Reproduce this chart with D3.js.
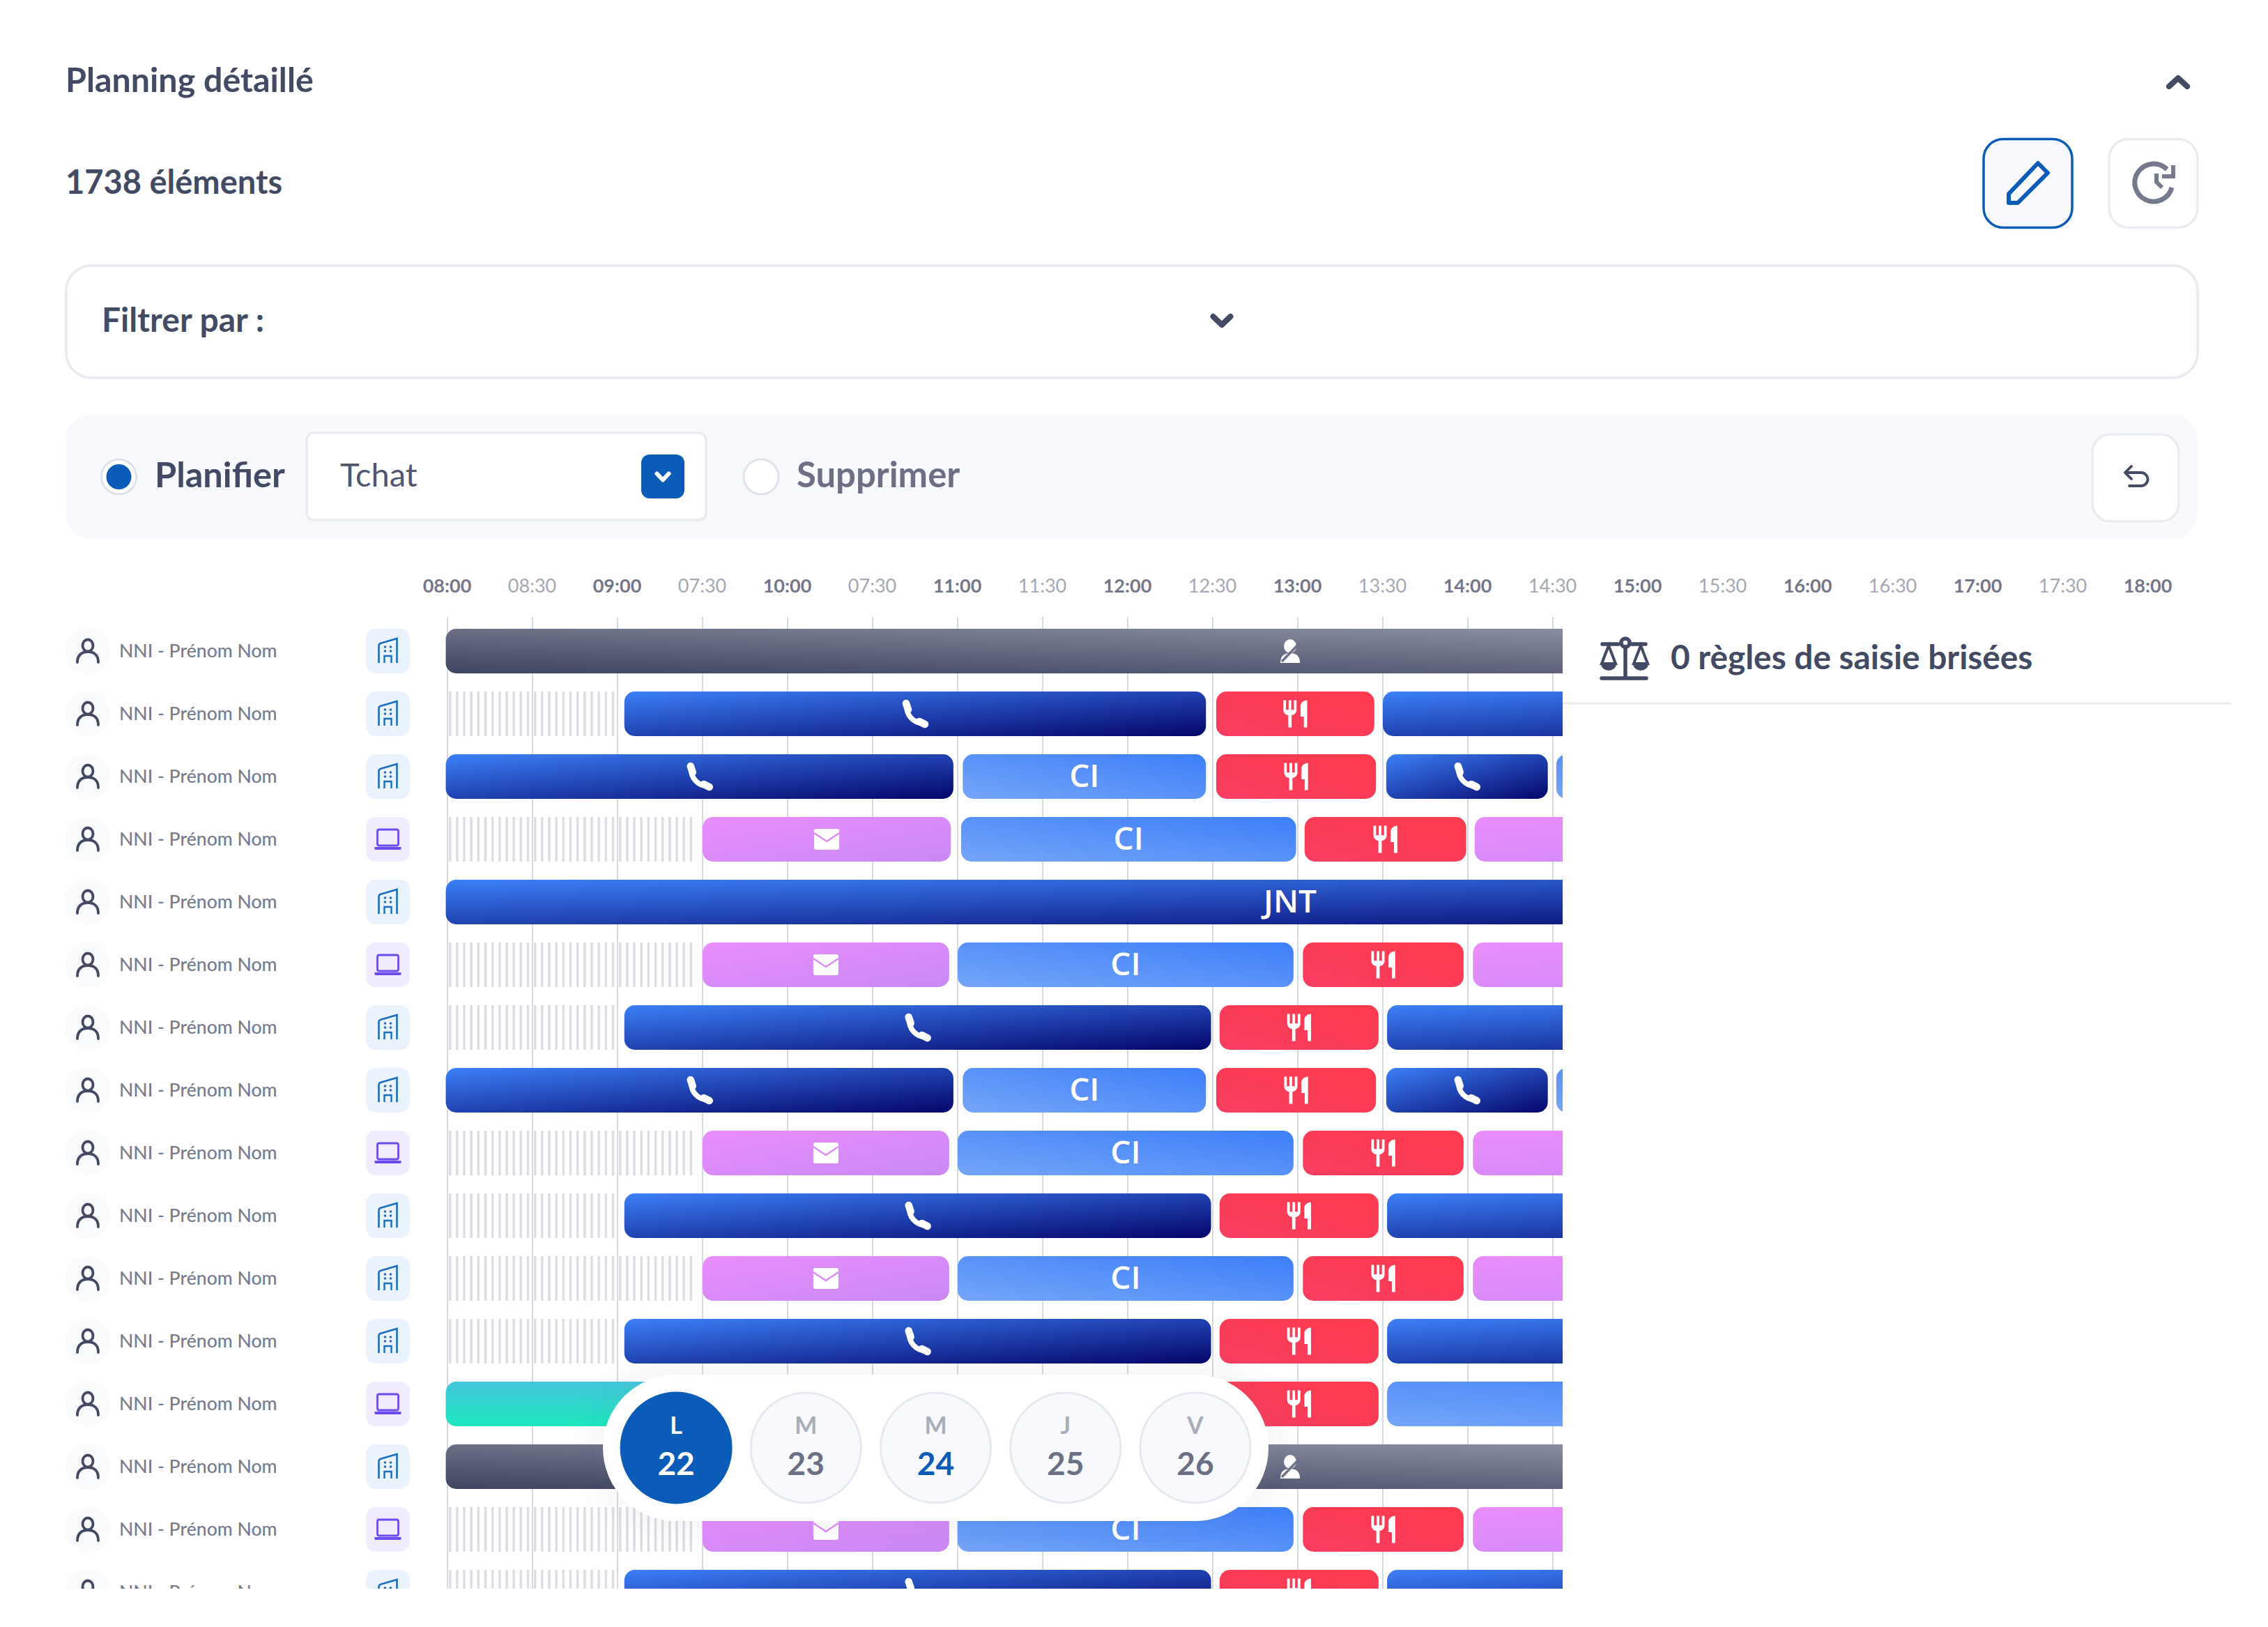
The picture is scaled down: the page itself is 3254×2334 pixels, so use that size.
<!DOCTYPE html>
<html>
<head>
<meta charset="utf-8">
<script src="https://cdn.jsdelivr.net/npm/d3@7"></script>
<style>
  html, body { margin: 0; background: #fff; }
  svg { display: block; }
  text { font-family: Lato, "Noto Sans", sans-serif; }
</style>
</head>
<body>
<div id="planning"></div>
<script>
const tickHours = [8, 8.5, 9, 9.5, 10, 10.5, 11, 11.5, 12, 12.5, 13, 13.5, 14, 14.5, 15, 15.5, 16, 16.5, 17, 17.5, 18]
const tickLabels = ['08:00', '08:30', '09:00', '07:30', '10:00', '07:30', '11:00', '11:30', '12:00', '12:30', '13:00', '13:30', '14:00', '14:30', '15:00', '15:30', '16:00', '16:30', '17:00', '17:30', '18:00']

// [start hour, end hour, activity]
const planAbsence = [[7.99, 17.92, 'absence']]
const planHoliday = [[7.99, 17.92, 'jnt']]
const planPhoneA = [[7.99, 8.99, 'free'], [9.04, 12.46, 'phone'], [12.52, 13.45, 'meal'], [13.5, 17.92, 'phone']]
const planPhoneB = [[7.99, 8.99, 'free'], [9.04, 12.49, 'phone'], [12.54, 13.475, 'meal'], [13.525, 17.92, 'phone']]
const planSplit = [[7.99, 10.975, 'phone'], [11.03, 12.46, 'ci'], [12.52, 13.46, 'meal'], [13.52, 14.47, 'phone'], [14.52, 17, 'ci']]
const planMailA = [[7.99, 9.44, 'free'], [9.5, 10.96, 'mail'], [11.02, 12.99, 'ci'], [13.04, 13.99, 'meal'], [14.04, 17.5, 'mail']]
const planMailB = [[7.99, 9.44, 'free'], [9.5, 10.95, 'mail'], [11, 12.975, 'ci'], [13.03, 13.975, 'meal'], [14.03, 17.5, 'mail']]
const planTeal = [[7.99, 12.49, 'teal'], [12.54, 13.475, 'meal'], [13.525, 17, 'ci']]

const rowPlans = [planAbsence, planPhoneA, planSplit, planMailA, planHoliday, planMailB, planPhoneB, planSplit, planMailB, planPhoneB, planMailB, planPhoneB, planTeal, planAbsence, planMailB, planPhoneB]
const rowSites = ['office', 'office', 'office', 'remote', 'office', 'remote', 'office', 'office', 'remote', 'office', 'office', 'office', 'remote', 'office', 'remote', 'office']
const rowName = 'NNI - Prénom Nom'

const dayLetters = ['L', 'M', 'M', 'J', 'V']
const dayNumbers = ['22', '23', '24', '25', '26']

const ink = '#434a63'
const brand = '#0a5cb8'
const hairline = '#e9ebf0'

const svg = d3.select('#planning').append('svg')
  .attr('width', 3254).attr('height', 2334)
  .attr('viewBox', [0, 0, 3254, 2334])

const x = d3.scaleLinear().domain([8, 18]).range([642, 3082])
const y = d3.scaleBand().domain(d3.range(rowPlans.length))
  .range([889, 889 + 90 * rowPlans.length]).paddingInner(26 / 90).paddingOuter(13 / 90)

// ---- defs
const defs = svg.append('defs')

const gradients = {
  phone: [0, 0, 1, 1, '#3c80f8', '#05056a'],
  jnt: [0, 0, 1, 1, '#3c80f8', '#05056a'],
  ci: [0, 1, 1, 0, '#74a5f8', '#3d7ff9'],
  meal: [0, 1, 1, 0, '#f83d62', '#ff3b4c'],
  mail: [0, 0, 1, 1, '#ea8dfd', '#c889f4'],
  absence: [0, 1, 1, 0, '#3f4460', '#979cad'],
  teal: [0, 0, 0, 1, '#43c6dd', '#1de8bd']
}
Object.entries(gradients).forEach(([name, [x1, y1, x2, y2, from, to]]) => {
  const g = defs.append('linearGradient').attr('id', `grad-${name}`)
    .attr('x1', x1).attr('y1', y1).attr('x2', x2).attr('y2', y2)
  g.append('stop').attr('offset', 0).attr('stop-color', from)
  g.append('stop').attr('offset', 1).attr('stop-color', to)
})

defs.append('pattern').attr('id', 'free-hatch').attr('patternUnits', 'userSpaceOnUse')
  .attr('width', (x(9) - x(8)) / 24).attr('height', 64).attr('x', x(8))
  .append('rect').attr('x', 2).attr('width', 3.4).attr('height', 64).attr('fill', '#d9dce2')

defs.append('clipPath').attr('id', 'rows-clip')
  .append('rect').attr('x', 0).attr('y', 860).attr('width', x(8) + 1600).attr('height', 2279 - 860)

const shadow = defs.append('filter').attr('id', 'pill-shadow')
  .attr('x', '-10%').attr('y', '-40%').attr('width', '120%').attr('height', '180%')
shadow.append('feDropShadow').attr('dx', 0).attr('dy', 0).attr('stdDeviation', 24)
  .attr('flood-color', '#4a5068').attr('flood-opacity', 0.1)

// ---- icons, all drawn around 0,0
const mealPath = 'M11 9H9V2H7v7H5V2H3v7c0 2.12 1.66 3.84 3.75 3.97V22h2.5v-9.03C11.34 12.84 13 11.12 13 9V2h-2v7zm5-3v8h2.5v8H21V2c-2.76 0-5 2.24-5 4z'

const activityIcons = {
  phone: g => {
    g.append('path').attr('d', 'M-12,-13 C-13,2 -3,13 12,14')
      .attr('fill', 'none').attr('stroke', '#fff').attr('stroke-width', 7.5)
    g.append('path').attr('d', 'M-13,-15 L-10,-6 M6,11 L14,15')
      .attr('fill', 'none').attr('stroke', '#fff').attr('stroke-width', 10.5).attr('stroke-linecap', 'round')
  },
  meal: g => g.append('path').attr('d', mealPath).attr('fill', '#fff')
    .attr('transform', 'scale(1.9,1.95) translate(-12,-12)'),
  mail: g => {
    g.append('rect').attr('x', -18).attr('y', -15).attr('width', 36).attr('height', 30).attr('rx', 3).attr('fill', '#fff')
    g.append('path').attr('d', 'M-18,-9 L0,3 L18,-9').attr('fill', 'none').attr('stroke', '#dd8bf9').attr('stroke-width', 2.5)
  },
  absence: g => {
    g.append('ellipse').attr('cy', -7).attr('rx', 9).attr('ry', 10).attr('fill', '#fff')
    g.append('path').attr('d', 'M-14,17 C-14,6 -8,3 0,3 C8,3 14,6 14,17 Z').attr('fill', '#fff')
    g.append('path').attr('d', 'M-12,15 L14,-12').attr('stroke', '#6f7389').attr('stroke-width', 3.5)
  }
}

function drawBuilding(g) {
  const c = '#1c6dbd'
  g.append('path').attr('d', 'M-13,17 V-8 Q-13,-10 -11,-11 L13,-18 V17').attr('fill', 'none').attr('stroke', c).attr('stroke-width', 2.6)
  g.selectAll('circle').data([[-4, -6], [4, -6], [-4, 0], [4, 0]]).join('circle')
    .attr('cx', d => d[0]).attr('cy', d => d[1]).attr('r', 1.8).attr('fill', c)
  g.append('path').attr('d', 'M-5,17 V7 H5 V17').attr('fill', 'none').attr('stroke', c).attr('stroke-width', 2.4)
}

function drawLaptop(g) {
  const c = '#6a4cf0'
  g.append('rect').attr('x', -15).attr('y', -14).attr('width', 30).attr('height', 23).attr('rx', 2.5)
    .attr('fill', 'none').attr('stroke', c).attr('stroke-width', 2.8)
  g.append('path').attr('d', 'M-19,11 H19 V14 Q19,15 17,15 H-17 Q-19,15 -19,14 Z').attr('fill', c)
}

function drawPerson(g) {
  g.append('ellipse').attr('cy', -8).attr('rx', 7.5).attr('ry', 8.5)
    .attr('fill', 'none').attr('stroke', '#434a63').attr('stroke-width', 3.8)
  g.append('path').attr('d', 'M-15,16 C-15,6 -9,1 0,1 C9,1 15,6 15,16')
    .attr('fill', 'none').attr('stroke', '#434a63').attr('stroke-width', 3.8).attr('stroke-linecap', 'round')
}

const chevron = (g, cx, cy, w, h, stroke, color) => g.append('path')
  .attr('d', `M${cx - w / 2},${cy - h / 2} L${cx},${cy + h / 2} L${cx + w / 2},${cy - h / 2}`)
  .attr('fill', 'none').attr('stroke', color).attr('stroke-width', stroke)
  .attr('stroke-linecap', 'round').attr('stroke-linejoin', 'round')

const label = (g, str, px, py, size, weight, color, anchor = 'start') => g.append('text')
  .attr('x', px).attr('y', py).attr('font-size', size).attr('font-weight', weight)
  .attr('fill', color).attr('text-anchor', anchor).text(str)

const box = (g, bx, by, w, h, r, fill, stroke, sw = 3.5) => g.append('rect')
  .attr('x', bx).attr('y', by).attr('width', w).attr('height', h).attr('rx', r)
  .attr('fill', fill).attr('stroke', stroke).attr('stroke-width', sw)

// ---- header
const header = svg.append('g').attr('class', 'header')
label(header, 'Planning détaillé', 94, 132, 48.4, 700, ink)
chevron(header, 3125, 118, 26, 12, 8, ink).attr('transform', 'rotate(180 3125 118)')
label(header, '1738 éléments', 94, 278, 47, 700, ink)

box(header, 2846, 199.5, 127, 127, 28, '#f7f9fd', brand)
header.append('path').attr('transform', 'translate(2910,263)')
  .attr('d', 'M-28,15 V28 H-15 L28,-15 L14,-29 Z')
  .attr('fill', 'none').attr('stroke', brand).attr('stroke-width', 6).attr('stroke-linejoin', 'round')

box(header, 3026, 199.5, 127, 127, 28, '#fff', hairline)
const history = header.append('g').attr('transform', 'translate(3090,263)')
  .attr('fill', 'none').attr('stroke', '#75798c').attr('stroke-width', 7)
history.append('path').attr('d', 'M26,6 A27,27 0 1 1 19,-20')
history.append('path').attr('d', 'M4,-14 V-2 L12,6').attr('stroke-width', 6)
history.append('path').attr('d', 'M28,-26 V-10 H12').attr('stroke-width', 6)

box(header, 95, 381, 3058, 161, 36, '#fff', hairline, 4)
label(header, 'Filtrer par :', 146, 476, 48, 700, ink)
chevron(header, 1753, 460, 25, 12, 8, ink)

// ---- toolbar
const toolbar = svg.append('g').attr('class', 'toolbar')
box(toolbar, 94, 595, 3059, 178, 36, '#f7f9fd', 'none', 0)
toolbar.append('circle').attr('cx', 170.5).attr('cy', 684).attr('r', 25).attr('fill', '#fff').attr('stroke', '#dfe2ea').attr('stroke-width', 3)
toolbar.append('circle').attr('cx', 170.5).attr('cy', 684).attr('r', 18).attr('fill', brand)
label(toolbar, 'Planifier', 222, 699, 50.5, 700, ink)
box(toolbar, 440, 621, 573, 125, 10, '#fff', hairline)
label(toolbar, 'Tchat', 488, 698, 47, 400, '#50566f')
box(toolbar, 920, 652, 62, 63, 12, brand, 'none', 0)
chevron(toolbar, 951, 684, 17, 9, 6, '#fff')
toolbar.append('circle').attr('cx', 1092).attr('cy', 684).attr('r', 25).attr('fill', '#fff').attr('stroke', '#dfe2ea').attr('stroke-width', 3)
label(toolbar, 'Supprimer', 1143, 699, 50.8, 700, '#6b7084')
box(toolbar, 3002, 623, 124, 125, 26, '#fff', hairline)
toolbar.append('path').attr('transform', 'translate(3065,684)')
  .attr('d', 'M-7,-15 L-16,-6 L-7,3 M-16,-6 H7 A9.5,9.5 0 0 1 7,13 H-10')
  .attr('fill', 'none').attr('stroke', ink).attr('stroke-width', 3.8).attr('stroke-linecap', 'round').attr('stroke-linejoin', 'round')

// ---- time axis
svg.append('g').attr('class', 'axis x')
  .attr('transform', 'translate(-1,850)')
  .call(d3.axisTop(x).tickValues(tickHours).tickSize(0).tickPadding(0)
    .tickFormat((d, i) => tickLabels[i]))
  .call(g => g.select('.domain').remove())
  .selectAll('.tick text')
    .attr('font-family', 'Lato, sans-serif')
    .attr('font-size', 27)
    .attr('font-weight', d => Number.isInteger(d) ? 700 : 400)
    .attr('fill', d => Number.isInteger(d) ? '#73778a' : '#a5a8b3')

// ---- rows
const rowsArea = svg.append('g').attr('class', 'rows').attr('clip-path', 'url(#rows-clip)')

rowsArea.append('g').attr('class', 'grid')
  .selectAll('line')
  .data(tickHours)
  .join('line')
    .attr('x1', d => x(d)).attr('x2', d => x(d))
    .attr('y1', 885).attr('y2', 2279)
    .attr('stroke', '#d6d9e0').attr('stroke-width', 2)

const rows = rowsArea.selectAll('g.row')
  .data(rowPlans)
  .join('g')
    .attr('class', 'row')
    .attr('transform', (d, i) => `translate(0,${y(i)})`)

rows.append('circle').attr('cx', 126).attr('cy', 32).attr('r', 33).attr('fill', '#fafbfd')
rows.append('g').attr('transform', 'translate(126,32)').each(function() { drawPerson(d3.select(this)) })
rows.append('text').attr('x', 171).attr('y', 41).attr('font-size', 26.6).attr('font-weight', 500)
  .attr('fill', '#777b8d').text(rowName)

rows.append('rect').attr('x', 525).attr('width', 63).attr('height', y.bandwidth()).attr('rx', 14)
  .attr('fill', (d, i) => rowSites[i] === 'office' ? '#eaf3fd' : '#f0ebfd')
rows.append('g').attr('transform', 'translate(556.5,32)').each(function(d, i) {
  rowSites[i] === 'office' ? drawBuilding(d3.select(this)) : drawLaptop(d3.select(this))
})

const segments = rows.selectAll('g.segment')
  .data(d => d.map(([start, end, kind]) => ({ start, end, kind })))
  .join('g')
    .attr('class', d => `segment ${d.kind}`)

segments.append('rect')
  .attr('x', d => x(d.start))
  .attr('width', d => x(d.end) - x(d.start))
  .attr('height', y.bandwidth())
  .attr('rx', d => d.kind === 'free' ? 0 : 15)
  .attr('fill', d => d.kind === 'free' ? 'url(#free-hatch)' : `url(#grad-${d.kind})`)

segments.filter(d => activityIcons[d.kind])
  .append('g')
    .attr('transform', d => `translate(${x((d.start + d.end) / 2)},32)`)
    .each(function(d) { activityIcons[d.kind](d3.select(this)) })

segments.filter(d => d.kind === 'ci' || d.kind === 'jnt')
  .append('text')
    .attr('x', d => x((d.start + d.end) / 2))
    .attr('y', 47)
    .attr('text-anchor', 'middle')
    .attr('font-size', 46)
    .attr('font-weight', 600)
    .attr('fill', '#fff')
    .style('font-family', '"Open Sans", sans-serif')
    .text(d => d.kind === 'ci' ? 'CI' : 'JNT')

// ---- rules panel
const rules = svg.append('g').attr('class', 'rules')
rules.append('line').attr('x1', 2242).attr('x2', 3201).attr('y1', 1009).attr('y2', 1009).attr('stroke', hairline).attr('stroke-width', 3)
label(rules, '0 règles de saisie brisées', 2397, 960, 47.8, 700, ink)
const scales = rules.append('g').attr('transform', 'translate(2330,944)')
  .attr('fill', 'none').attr('stroke', ink).attr('stroke-width', 5.5).attr('stroke-linecap', 'round')
scales.append('path').attr('d', 'M-31,-20 H-8 M8,-20 H31 M2,-14 V28 M-32,29 H32')
scales.append('circle').attr('cx', 2).attr('cy', -22).attr('r', 6)
scales.append('path').attr('d', 'M-22,-18 L-32,8 H-12 Z M24,-18 L14,8 H34 Z').attr('stroke-width', 4)
scales.append('path').attr('d', 'M-33,8 A11,10 0 0 0 -11,8 Z M13,8 A11,10 0 0 0 35,8 Z').attr('fill', ink).attr('stroke', 'none')

// ---- day picker
const days = d3.scaleBand().domain(d3.range(dayLetters.length)).range([877, 1808])
const dayPicker = svg.append('g').attr('class', 'days')
dayPicker.append('rect').attr('x', 865).attr('y', 1972).attr('width', 955).attr('height', 210).attr('rx', 105)
  .attr('fill', '#fff').attr('filter', 'url(#pill-shadow)')

const day = dayPicker.selectAll('g.day')
  .data(dayLetters)
  .join('g')
    .attr('class', 'day')
    .attr('transform', (d, i) => `translate(${days(i) + days.bandwidth() / 2},2077)`)

day.append('circle').attr('r', 79)
  .attr('fill', (d, i) => i === 0 ? brand : '#f7f9fc')
  .attr('stroke', (d, i) => i === 0 ? brand : '#e5e8ee')
  .attr('stroke-width', 3)
day.append('text').attr('y', -20).attr('text-anchor', 'middle').attr('font-size', 34).attr('font-weight', 700)
  .attr('fill', (d, i) => i === 0 ? '#fff' : '#a9adb9')
  .text(d => d)
day.append('text').attr('y', 39).attr('text-anchor', 'middle').attr('font-size', 46).attr('font-weight', 700)
  .attr('fill', (d, i) => i === 0 ? '#fff' : i === 2 ? brand : '#6b7085')
  .text((d, i) => dayNumbers[i])
</script>
</body>
</html>
